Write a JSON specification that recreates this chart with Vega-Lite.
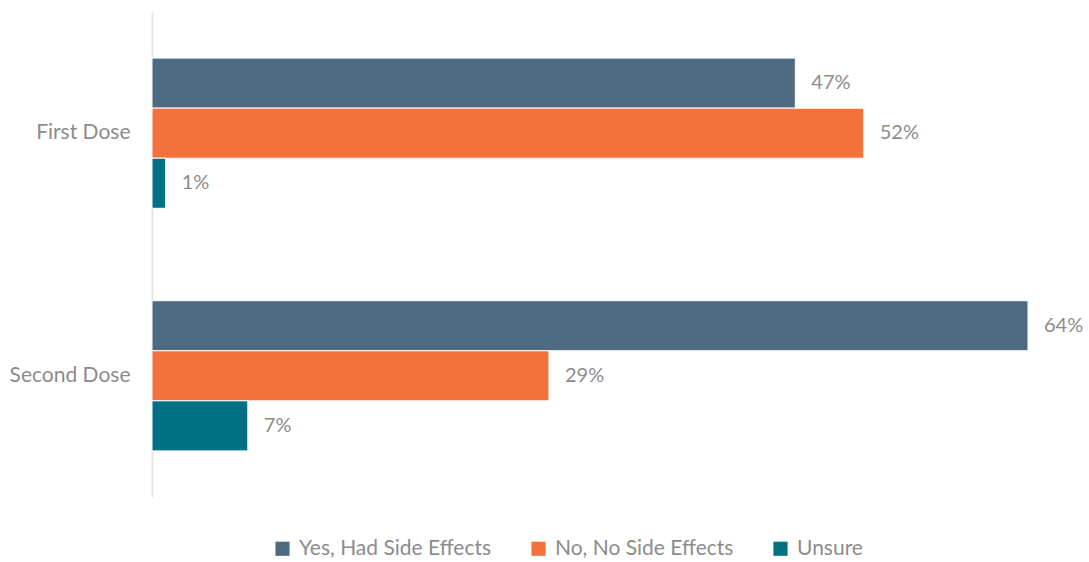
{
  "$schema": "https://vega.github.io/schema/vega-lite/v6.json",
  "width": 876,
  "height": 485,
  "autosize": "none",
  "padding": {"left": 152, "top": 12, "right": 61, "bottom": 65},
  "config": {
    "view": {"stroke": null},
    "font": "Lato",
    "text": {"font": "Lato"}
  },
  "data": {
    "values": [
      {"dose": "First Dose", "series": "Yes, Had Side Effects", "value": 0.47, "label": "47%"},
      {"dose": "First Dose", "series": "No, No Side Effects", "value": 0.52, "label": "52%"},
      {"dose": "First Dose", "series": "Unsure", "value": 0.01, "label": "1%"},
      {"dose": "Second Dose", "series": "Yes, Had Side Effects", "value": 0.64, "label": "64%"},
      {"dose": "Second Dose", "series": "No, No Side Effects", "value": 0.29, "label": "29%"},
      {"dose": "Second Dose", "series": "Unsure", "value": 0.07, "label": "7%"}
    ]
  },
  "encoding": {
    "y": {
      "field": "dose",
      "type": "nominal",
      "sort": ["First Dose", "Second Dose"],
      "scale": {"paddingInner": 0.381, "paddingOuter": 0.19},
      "axis": {
        "title": null,
        "ticks": false,
        "domainColor": "#e6e6e6",
        "domainWidth": 2,
        "labelFont": "Lato",
        "labelFontSize": 21,
        "labelColor": "#8c8c8c",
        "labelPadding": 22,
        "labelLimit": 0
      }
    },
    "yOffset": {
      "field": "series",
      "type": "nominal",
      "sort": ["Yes, Had Side Effects", "No, No Side Effects", "Unsure"],
      "scale": {"paddingInner": 0, "paddingOuter": 0}
    },
    "x": {
      "field": "value",
      "type": "quantitative",
      "scale": {"domain": [0, 0.64], "nice": false},
      "axis": null
    }
  },
  "layer": [
    {
      "mark": {"type": "bar", "stroke": "white", "strokeWidth": 1},
      "encoding": {
        "color": {
          "field": "series",
          "type": "nominal",
          "sort": ["Yes, Had Side Effects", "No, No Side Effects", "Unsure"],
          "scale": {
            "domain": ["Yes, Had Side Effects", "No, No Side Effects", "Unsure"],
            "range": ["#4e6a80", "#f4713c", "#007184"]
          },
          "legend": {
            "title": null,
            "orient": "none",
            "direction": "horizontal",
            "legendX": 120,
            "legendY": 526,
            "symbolType": "square",
            "symbolSize": 200,
            "symbolStrokeWidth": 0,
            "labelFont": "Lato",
            "labelFontSize": 21,
            "labelColor": "#8c8c8c",
            "labelLimit": 0,
            "columnPadding": 36,
            "labelOffset": 6
          }
        }
      }
    },
    {
      "mark": {"type": "text", "align": "left", "dx": 16, "fontSize": 20, "color": "#8c8c8c", "font": "Lato"},
      "encoding": {
        "text": {"field": "label"}
      }
    }
  ]
}
